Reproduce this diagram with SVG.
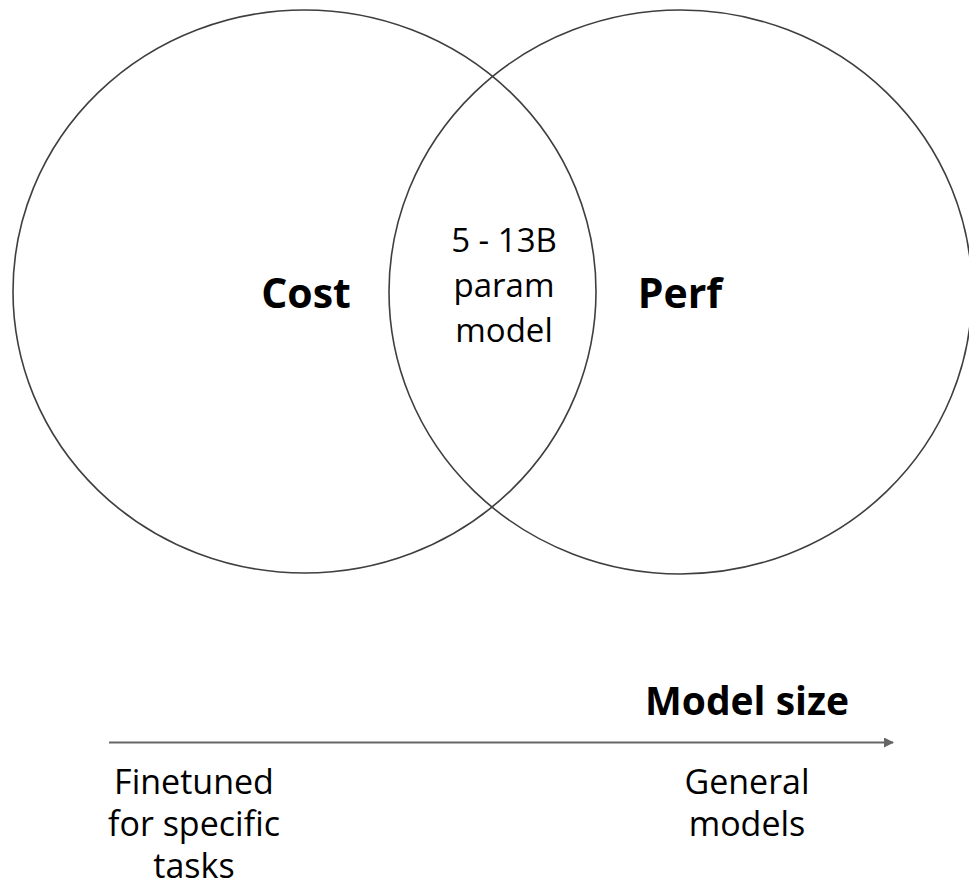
<svg xmlns="http://www.w3.org/2000/svg" width="969" height="888" viewBox="0 0 969 888">
  <style>
    .ring { fill: none; stroke: #3f3f3f; stroke-width: 1.6; }
    .txt { font-family: "Open Sans", "Liberation Sans", sans-serif; fill: #000; text-anchor: middle; }
    .big { font-size: 41px; font-weight: 700; }
    .mid { font-size: 33px; }
    .low { font-size: 34px; }
    .title { font-size: 39px; font-weight: 700; }
    .axis { stroke: #666; stroke-width: 2; fill: none; }
  </style>
  <defs>
    <marker id="head" viewBox="0 0 10 10" refX="9" refY="5" markerWidth="7" markerHeight="5" markerUnits="strokeWidth" orient="auto">
      <path d="M0,0 L10,5 L0,10 z" fill="#666"/>
    </marker>
  </defs>
  <rect width="969" height="888" fill="#fff"/>

  <!-- Venn circles -->
  <g id="cost">
    <ellipse class="ring" cx="304.5" cy="291.5" rx="291.5" ry="281.5"/>
    <text class="txt big" x="306" y="308">Cost</text>
  </g>
  <g id="perf">
    <ellipse class="ring" cx="680.5" cy="292" rx="291.5" ry="282"/>
    <text class="txt big" x="680" y="308">Perf</text>
  </g>
  <g id="overlap">
    <text class="txt mid" x="504" y="252"><tspan x="504">5 - 13B</tspan><tspan x="504" dy="45">param</tspan><tspan x="504" dy="45">model</tspan></text>
  </g>

  <!-- Model size axis -->
  <g id="connectors">
    <line class="axis" x1="109" y1="742.5" x2="893" y2="742.5" marker-end="url(#head)"/>
  </g>
  <g id="axis-title">
    <text class="txt title" x="747" y="715">Model size</text>
  </g>
  <g id="small-end">
    <text class="txt low" x="194" y="794"><tspan x="194">Finetuned</tspan><tspan x="194" dy="42">for specific</tspan><tspan x="194" dy="42">tasks</tspan></text>
  </g>
  <g id="large-end">
    <text class="txt low" x="747" y="794"><tspan x="747">General</tspan><tspan x="747" dy="42">models</tspan></text>
  </g>
</svg>
